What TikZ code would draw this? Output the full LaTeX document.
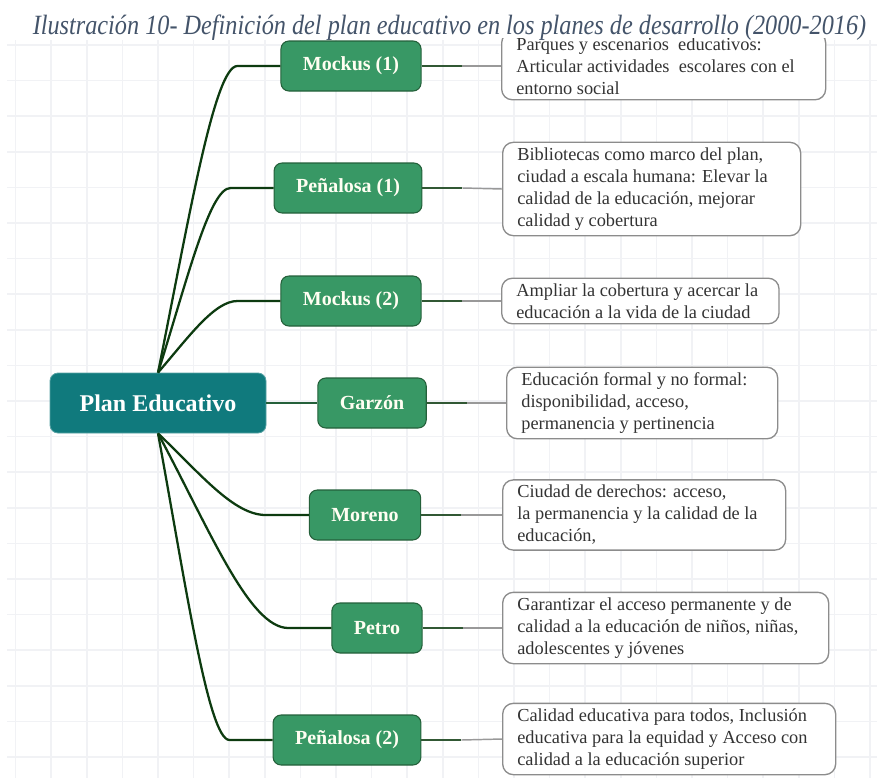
\documentclass[tikz,border=0pt]{standalone}
\usepackage{fontspec}
\setmainfont{Liberation Serif}
\usetikzlibrary{calc}

\definecolor{myteal}{HTML}{107A7D}
\definecolor{mygreen}{HTML}{389865}
\definecolor{mygreenline}{HTML}{24603A}
\definecolor{mydark}{HTML}{0D3B10}
\definecolor{mygrid}{HTML}{F1F2F5}
\definecolor{mytitle}{HTML}{44546A}
\definecolor{mytext}{HTML}{333333}

\begin{document}
\begin{tikzpicture}[x=0.75pt,y=-0.75pt,semithick]
      \tikzstyle{gridline}=[draw=mygrid,line width=1.2pt]
      \tikzstyle{root}=[fill=myteal,draw=myteal!70!white,rounded corners=6pt,minimum width=162pt,minimum height=45pt,text=white,font=\bfseries\fontsize{18}{20}\selectfont]
      \tikzstyle{leader}=[fill=mygreen,draw=mygreenline,line width=0.8pt,rounded corners=6pt,inner xsep=16.5pt,minimum height=37.5pt,text=white!95!yellow,font=\bfseries\fontsize{15}{17}\selectfont]
      \tikzstyle{note}=[anchor=west,fill=white,draw=black!45,line width=1pt,rounded corners=8pt,align=flush left,inner xsep=11pt,inner ysep=4pt,text=mytext,font=\fontsize{13.75}{16.5}\selectfont]
      \tikzstyle{branch}=[draw=mydark,line width=1.7pt]
      \tikzstyle{stem}=[draw=mydark!85!white,line width=1.2pt]
      \tikzstyle{tail}=[draw=black!40,line width=1.1pt]

      \useasboundingbox (0,0) rectangle (877,778);

      % grid
      \foreach \i in {0,...,24}
        \draw[gridline] ({15.5+35.6*\i},40) -- ({15.5+35.6*\i},778);
      \foreach \j in {0,...,20}
        \draw[gridline] (7,{45+35.6*\j}) -- (877,{45+35.6*\j});

      \node[root] (plan) at (158,403) {Plan Educativo};

      \node[leader] (m1) at (351,66) {Mockus (1)};
      \node[leader] (p1) at (348,188) {Peñalosa (1)};
      \node[leader] (m2) at (351,301) {Mockus (2)};
      \node[leader] (gz) at (372,403) {Garzón};
      \node[leader] (mo) at (365,515) {Moreno};
      \node[leader] (pe) at (377,628) {Petro};
      \node[leader] (p2) at (347,740) {Peñalosa (2)};

      \node[note,text width=221pt] (d1) at (501,66) {Parques y escenarios~ educativos:\\Articular actividades~ escolares con el\\entorno social};
      \node[note,text width=201.5pt] (d2) at (502,189) {Bibliotecas como marco del plan,\\ciudad a escala humana: Elevar la\\calidad de la educación, mejorar\\calidad y cobertura};
      \node[note,text width=186pt] (d3) at (501,301) {Ampliar la cobertura y acercar la\\educación a la vida de la ciudad};
      \node[note,text width=181.25pt] (d4) at (506,403) {Educación formal y no formal:\\disponibilidad, acceso,\\permanencia y pertinencia};
      \node[note,text width=190.25pt] (d5) at (502,515) {Ciudad de derechos: acceso,\\la permanencia y la calidad de la\\educación,};
      \node[note,text width=222.5pt] (d6) at (502,628) {Garantizar el acceso permanente y de\\calidad a la educación de niños, niñas,\\adolescentes y jóvenes};
      \node[note,text width=227.75pt] (d7) at (502,739) {Calidad educativa para todos, Inclusión\\educativa para la equidad y Acceso con\\calidad a la educación superior};

      % branches above
      \draw[branch] (plan.north) .. controls ($(plan.north)+(31,-154)$) and ($(m1.west)+(-66,0)$) .. ($(m1.west)+(-43,0)$) -- (m1.west);
      \draw[branch] (plan.north) .. controls ($(plan.north)+(29,-92)$) and ($(p1.west)+(-64,0)$) .. ($(p1.west)+(-43,0)$) -- (p1.west);
      \draw[branch] (plan.north) .. controls ($(plan.north)+(31,-36)$) and ($(m2.west)+(-66,0)$) .. ($(m2.west)+(-43,0)$) -- (m2.west);
      % branches below
      \draw[branch] (plan.south) .. controls ($(plan.south)+(43,41)$) and ($(mo.west)+(-75,0)$) .. ($(mo.west)+(-43,0)$) -- (mo.west);
      \draw[branch] (plan.south) .. controls ($(plan.south)+(52,97)$) and ($(pe.west)+(-82,0)$) .. ($(pe.west)+(-43,0)$) -- (pe.west);
      \draw[branch] (plan.south) .. controls ($(plan.south)+(28,153)$) and ($(p2.west)+(-64,0)$) .. ($(p2.west)+(-43,0)$) -- (p2.west);
      \draw[stem,draw=mygreenline] (plan.east) -- (gz.west);

      % leaders to notes
      \foreach \a/\b in {m1/d1,p1/d2,m2/d3,gz/d4,mo/d5,pe/d6,p2/d7}{
        \coordinate (k\a) at ($(\a.east)+(40,0)$);
        \draw[stem] (\a.east) -- (k\a);
        \draw[tail] (k\a) -- (\b.west);
      }

      % caption band
      \fill[white] (0,0) rectangle (877,38);
      \node[text=mytitle,inner sep=0pt,yscale=1.15] (cap) at (449.5,28) {\resizebox{625pt}{!}{\itshape\fontsize{16}{18}\selectfont Ilustración 10- Definición del plan educativo en los planes de desarrollo (2000-2016)}};
\end{tikzpicture}
\end{document}
